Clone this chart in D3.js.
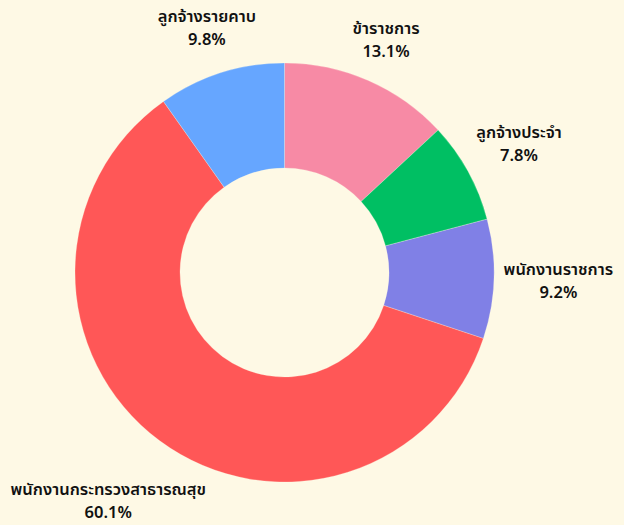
<!DOCTYPE html>
<html>
<head>
<meta charset="utf-8">
<script src="https://cdn.jsdelivr.net/npm/d3@7"></script>
<style>
  html, body { margin: 0; padding: 0; background: #fef9e5; }
  svg { display: block; }
  .lbl { font-family: "Noto Sans Thai", "Kanit", "Prompt", "Noto Sans Thai Looped", "Noto Sans", sans-serif; font-size: 16.5px; font-weight: 600; fill: #111; }
</style>
</head>
<body>
<svg id="chart" width="624" height="525"></svg>
<script>
const categories = ["ข้าราชการ", "ลูกจ้างประจำ", "พนักงานราชการ", "พนักงานกระทรวงสาธารณสุข", "ลูกจ้างรายคาบ"];
const shares = [13.1, 7.8, 9.2, 60.1, 9.8];
const colors = ["#f78aa5", "#00bf63", "#8080e6", "#ff5757", "#66a6ff"];

(function () {
  const W = 624, H = 525;
  const cx = 284.5, cy = 272.5;
  const outerR = 209.5, innerR = 104.5;
  const pad = 9;

  const svg = d3.select("#chart");
  const data = categories.map((c, i) => ({ name: c, value: shares[i], color: colors[i] }));

  const pie = d3.pie().sort(null).value(d => d.value);
  const arcs = pie(data);
  const arc = d3.arc().innerRadius(innerR).outerRadius(outerR);

  const g = svg.append("g").attr("transform", `translate(${cx},${cy})`);

  g.selectAll("path.slice")
    .data(arcs)
    .enter()
    .append("path")
    .attr("class", "slice")
    .attr("d", arc)
    .attr("fill", d => d.data.color)
    .attr("stroke", "#fef9e5")
    .attr("stroke-width", 0.25);

  // labels: two lines, pushed outside the ring by the box extent along the mid angle
  const labels = g.selectAll("text.lbl")
    .data(arcs)
    .enter()
    .append("text")
    .attr("class", "lbl")
    .attr("text-anchor", "middle");

  labels.append("tspan").attr("x", 0).attr("y", -4).text(d => d.data.name);
  labels.append("tspan").attr("x", 0).attr("y", 19).text(d => d.data.value.toFixed(1) + "%");

  labels.each(function (d) {
    const t = d3.select(this);
    const bb = this.getBBox();
    const a = (d.startAngle + d.endAngle) / 2;
    const vx = Math.sin(a), vy = -Math.cos(a);
    const ext = Math.abs(vx) * bb.width / 2 + Math.abs(vy) * bb.height / 2;
    const r = outerR + pad + ext;
    let px = vx * r, py = vy * r;
    // keep the box inside the picture
    const bcx = bb.x + bb.width / 2, bcy = bb.y + bb.height / 2;
    const left = cx + px - bb.width / 2, right = cx + px + bb.width / 2;
    const bottom = cy + py + bb.height / 2, top = cy + py - bb.height / 2;
    if (right > W) px -= right - W;
    if (left < 0) px -= left;
    if (bottom > H) py -= bottom - H;
    if (top < 0) py -= top;
    t.attr("transform", `translate(${px - bcx},${py - bcy})`);
  });
})();
</script>
</body>
</html>
